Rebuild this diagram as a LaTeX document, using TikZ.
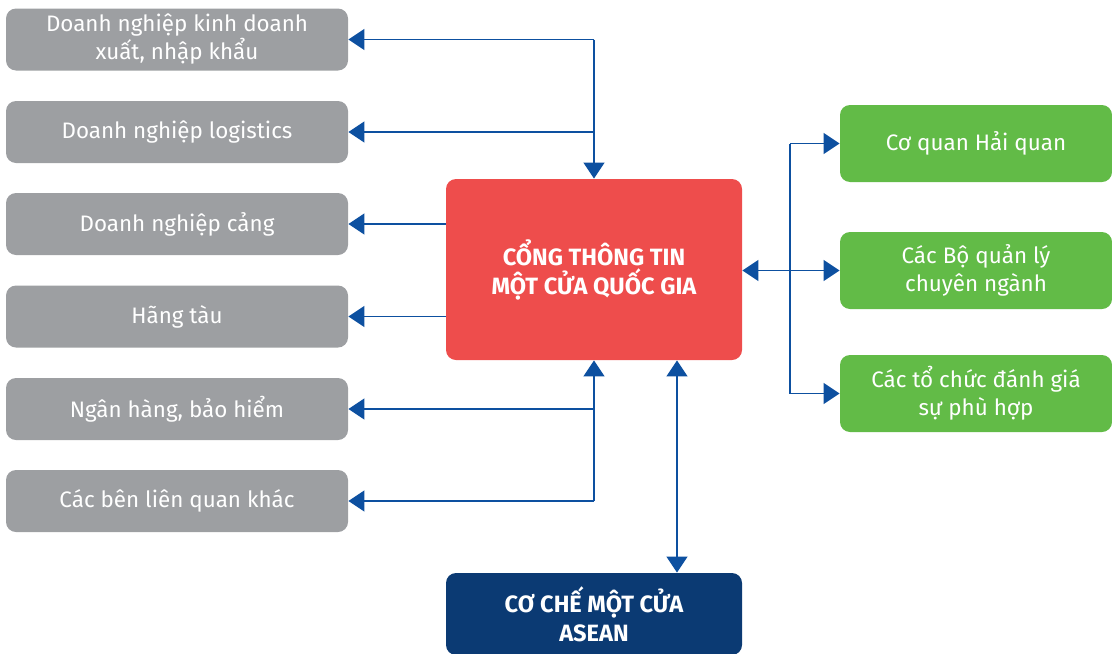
\documentclass[tikz,border=0pt]{standalone}
\usepackage{fontspec}
\setmainfont{Fira Sans}
\usetikzlibrary{arrows.meta}
\definecolor{xam}{HTML}{9D9FA2}
\definecolor{do}{HTML}{EE4D4C}
\definecolor{xanh}{HTML}{62BB47}
\definecolor{navy}{HTML}{0B3A73}
\definecolor{lam}{HTML}{0D50A0}

\begin{document}
\begin{tikzpicture}[x=0.5pt,y=-0.5pt,
  hop/.style={rounded corners=5pt,text=white,align=center,inner sep=0pt,
    font=\fontsize{11.2}{14}\selectfont},
  xamhop/.style={hop,fill=xam,minimum width=171pt,minimum height=31pt},
  xanhhop/.style={hop,fill=xanh,minimum width=136pt,minimum height=38.5pt},
  chinh/.style={hop,minimum width=148pt,font=\fontsize{11.8}{14.5}\selectfont\bfseries},
  noi/.style={draw=lam,line width=0.65pt},
  mui/.style={noi,-{Triangle[width=10.5pt,length=8pt]}},
  haimui/.style={noi,{Triangle[width=10.5pt,length=8pt]}-{Triangle[width=10.5pt,length=8pt]}}]
  \clip (0,0) rectangle (1112,653);

  \node[xamhop] (g1) at (177,39.5) {Doanh nghiệp kinh doanh\\xuất, nhập khẩu};
  \node[xamhop] (g2) at (177,132)  {Doanh nghiệp logistics};
  \node[xamhop] (g3) at (177,224)  {Doanh nghiệp cảng};
  \node[xamhop] (g4) at (177,316.5) {Hãng tàu};
  \node[xamhop] (g5) at (177,409)  {Ngân hàng, bảo hiểm};
  \node[xamhop] (g6) at (177,501)  {Các bên liên quan khác};

  \node[chinh,fill=do,minimum height=90.5pt] (r) at (594,269.5)
    {CỔNG THÔNG TIN\\MỘT CỬA QUỐC GIA};
  \node[chinh,fill=navy,minimum height=41pt] (a) at (594,614)
    {CƠ CHẾ MỘT CỬA\\ASEAN};

  \node[xanhhop] (h1) at (976,143.5) {Cơ quan Hải quan};
  \node[xanhhop] (h2) at (976,270.5) {Các Bộ quản lý\\chuyên ngành};
  \node[xanhhop] (h3) at (976,393.5) {Các tổ chức đánh giá\\sự phù hợp};

  \coordinate (sx) at (790,0);
  \coordinate (nx) at (677,0);

  % ben trai
  \draw[mui] (g1.east -| r) -- (r.north);
  \draw[mui] (g1.east -| r) -- (g1.east);
  \draw[mui] (g2.east -| r) -- (g2.east);
  \draw[mui] (r.west |- g3) -- (g3.east);
  \draw[mui] (r.west |- g4) -- (g4.east);
  \draw[mui] (g6.east -| r) -- (r.south);
  \draw[mui] (g5.east -| r) -- (g5.east);
  \draw[mui] (g6.east -| r) -- (g6.east);

  % ben phai
  \draw[noi] (sx |- h1) -- (sx |- h3);
  \draw[mui] (sx |- h1) -- (h1.west);
  \draw[mui] (sx |- h3) -- (h3.west);
  \draw[haimui] (r.east |- h2) -- (h2.west);

  % ASEAN
  \draw[haimui] (nx |- r.south) -- (nx |- a.north);
\end{tikzpicture}
\end{document}
